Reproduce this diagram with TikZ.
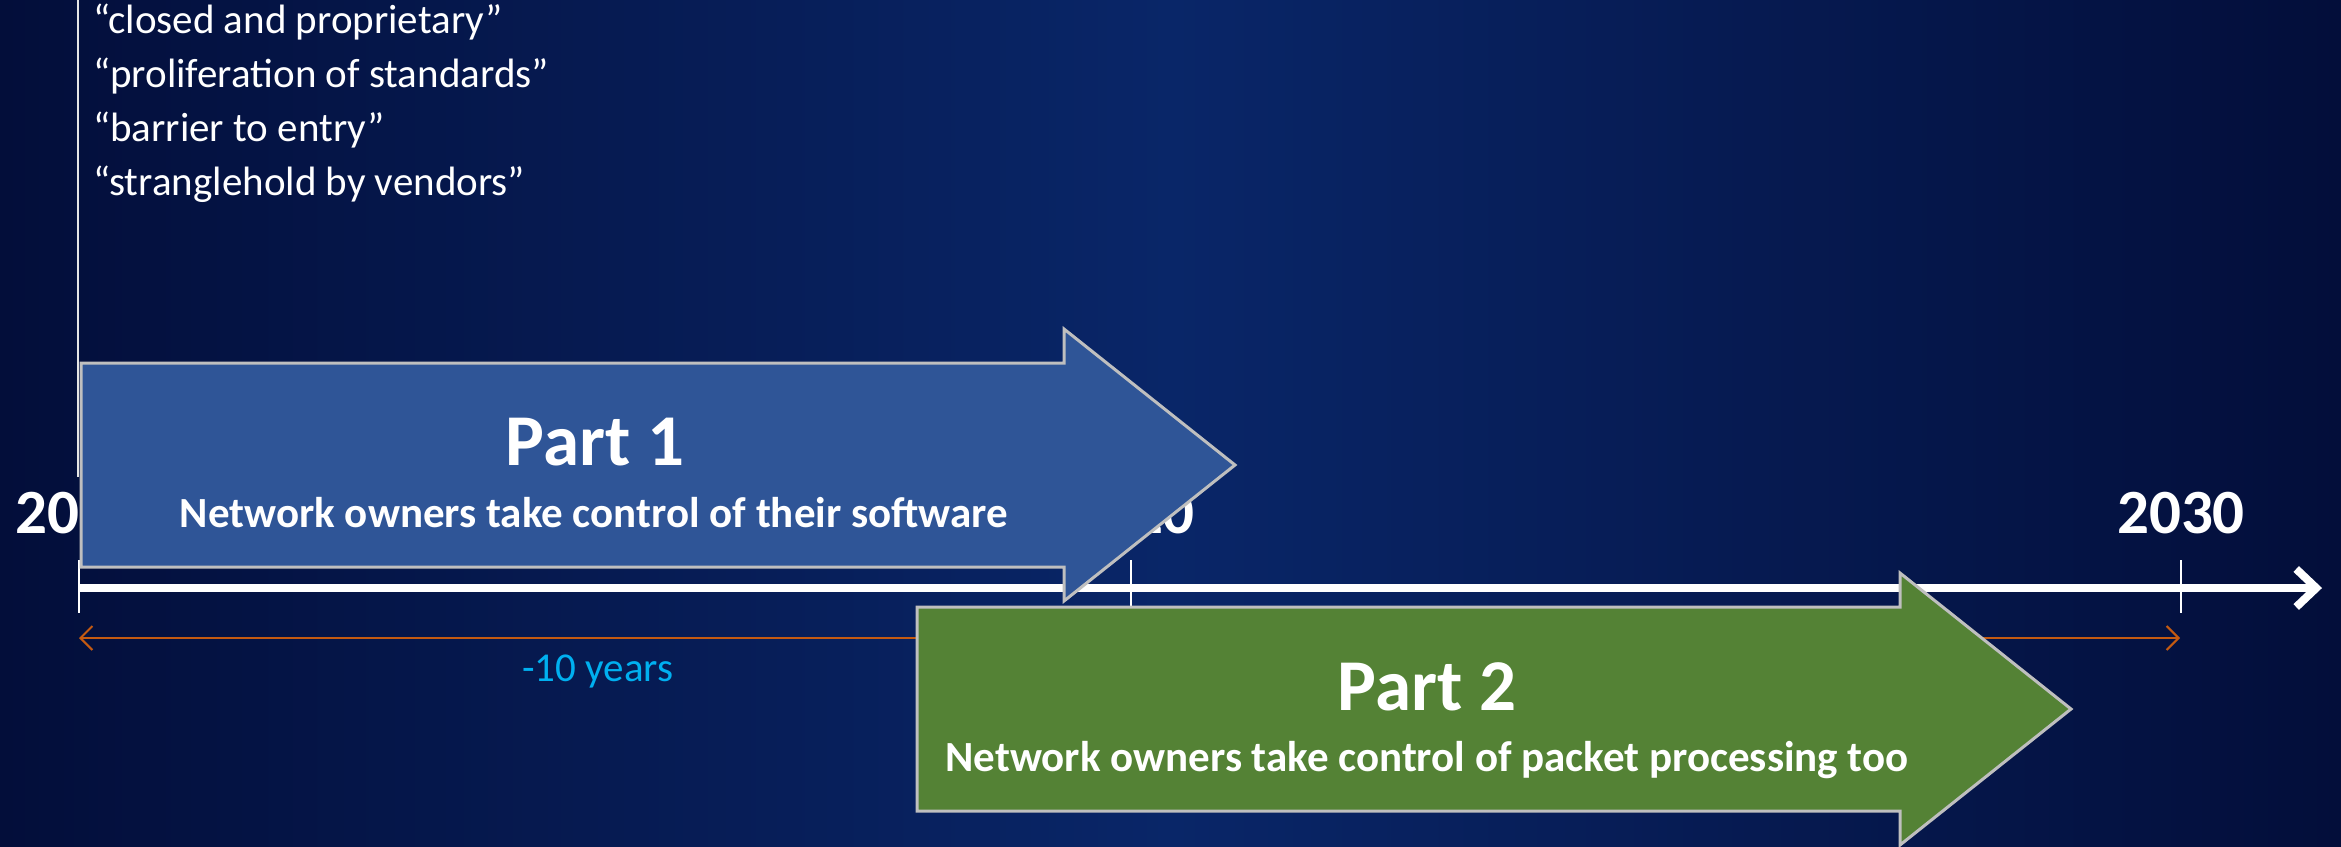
\documentclass[tikz,border=0pt]{standalone}
\usepackage{fontspec}
\setmainfont{Carlito}
\usetikzlibrary{arrows.meta}
\definecolor{bgdark}{RGB}{3,14,58}
\definecolor{bgmid}{RGB}{9,38,104}
\definecolor{partblue}{RGB}{47,85,151}
\definecolor{partgreen}{RGB}{84,130,53}
\definecolor{rimgray}{RGB}{191,191,191}
\definecolor{spanorange}{RGB}{197,90,17}
\definecolor{yearcyan}{RGB}{0,176,240}
\tikzset{
  partarrow/.style={draw=rimgray, line width=3pt, line join=miter},
  partlabel/.style={text=white, font=\bfseries\fontsize{73}{86}\selectfont, anchor=base, inner sep=0pt},
  partnote/.style={text=white, font=\bfseries\fontsize{43}{50}\selectfont, anchor=base, inner sep=0pt},
  yearlabel/.style={text=white, font=\bfseries\fontsize{63}{74}\selectfont, anchor=base, inner sep=0pt},
  quoteline/.style={text=white, font=\fontsize{41}{48}\selectfont, anchor=base west, inner sep=0pt},
  spanline/.style={spanorange, line width=2pt},
}
\begin{document}
\begin{tikzpicture}[x=1pt,y=-1pt]
  \useasboundingbox (0,0) rectangle (2341,846);
  \shade[left color=bgdark, right color=bgdark, middle color=bgmid] (0,0) rectangle (2341,846);
  % quotes
  \coordinate (qtop) at (78,0);
  \coordinate (qend) at (78,477);
  \draw[white!80!gray, line width=2pt] (qtop) -- (qend);
  \foreach \q [count=\i] in {closed and proprietary, proliferation of standards, barrier to entry, stranglehold by vendors}
    \node[quoteline] (quote\i) at (93,{33+54*(\i-1)}) {“\q”};
  % timeline
  \coordinate (t0) at (79,588);
  \coordinate (t1) at (1131,588);
  \coordinate (t2) at (2181,588);
  \coordinate (tend) at (2322,588);
  \draw[white, line width=8pt, -{Straight Barb[length=20pt,width=38pt]}] (t0) -- (tend);
  \foreach \t in {t0,t1,t2}
    \draw[white, line width=2.5pt] ([yshift=28pt]\t) -- ([yshift=-25pt]\t);
  \node[yearlabel] (y2010) at (79,533) {2010};
  \node[yearlabel] (y2020) at (1131,533) {2020};
  \node[yearlabel] (y2030) at (2181,533) {2030};
  % span
  \coordinate (s0) at (79,638);
  \coordinate (s1) at (2180,638);
  \draw[spanline, {Straight Barb[length=12pt,width=24pt]}-{Straight Barb[length=12pt,width=24pt]}] (s0) -- (s1);
  \node[text=yearcyan, font=\fontsize{41}{48}\selectfont, anchor=base, inner sep=0pt] (span) at (598,681) {-10 years};
  % parts
  \draw[partarrow, fill=partblue] (81,363) -- (1064,363) -- (1064,329) -- (1235,465) -- (1064,601) -- (1064,567) -- (81,567) -- cycle;
  \node[partlabel] (p1) at (595,465) {Part 1};
  \node[partnote] (p1note) at (594,527) {Network owners take control of their software};
  \draw[partarrow, fill=partgreen, shift={(836,244)}] (81,363) -- (1064,363) -- (1064,329) -- (1235,465) -- (1064,601) -- (1064,567) -- (81,567) -- cycle;
  \node[partlabel] (p2) at (1427,710) {Part 2};
  \node[partnote] (p2note) at (1427,771) {Network owners take control of packet processing too};
\end{tikzpicture}
\end{document}
